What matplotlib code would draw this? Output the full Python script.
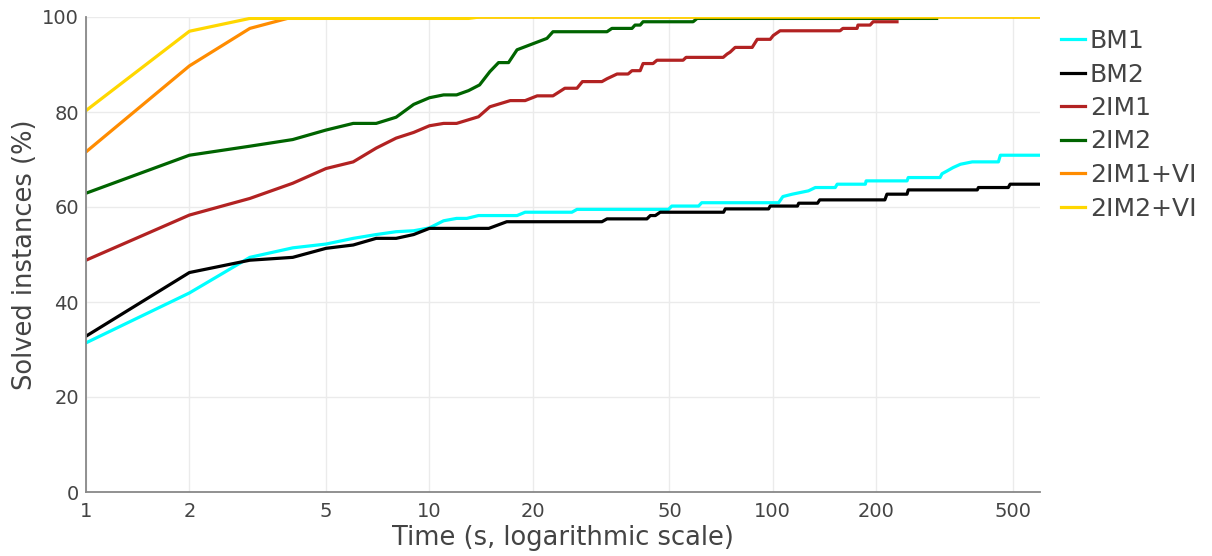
import matplotlib
matplotlib.use("Agg")
import matplotlib.pyplot as plt
from matplotlib.ticker import FixedLocator, FixedFormatter, NullLocator

# ---- data ----
bm1_t = [1, 2, 3, 4, 5, 6, 7, 8, 9, 10, 11, 12, 12.85, 13.9, 18, 19, 26, 26.9, 49.7, 50.8,
         60.8, 62.1, 104, 107, 114, 127, 133, 152, 154, 186, 187, 246, 248, 307, 311, 322,
         335, 352, 381, 454, 460, 600]
bm1_v = [31.4, 41.9, 49.4, 51.4, 52.2, 53.4, 54.2, 54.8, 55.0, 55.6, 57.1, 57.6, 57.6, 58.2,
         58.2, 58.9, 58.9, 59.5, 59.5, 60.2, 60.2, 60.9, 60.9, 62.2, 62.7, 63.4, 64.1, 64.1,
         64.8, 64.8, 65.5, 65.5, 66.2, 66.2, 67.0, 67.6, 68.3, 69.0, 69.5, 69.5, 70.9, 70.9]

bm2_t = [1, 2, 3, 4, 5, 6, 7, 8, 9, 10, 14.9, 16.8, 31.8, 32.9, 43.0, 44.0, 45.5, 47.0, 71.9,
         72.7, 97.2, 98.3, 118, 119, 135, 137, 212, 215, 246, 248, 394, 397, 485, 491, 600]
bm2_v = [32.8, 46.2, 48.8, 49.4, 51.3, 52.0, 53.4, 53.4, 54.2, 55.5, 55.5, 56.9, 56.9, 57.5,
         57.5, 58.2, 58.2, 58.9, 58.9, 59.6, 59.6, 60.2, 60.2, 60.8, 60.8, 61.5, 61.5, 62.7,
         62.7, 63.6, 63.6, 64.1, 64.1, 64.8, 64.8]

im1_t = [1, 2, 3, 4, 5, 6, 7, 8, 9, 10, 11, 12, 13.9, 15, 17.2, 19, 20.6, 22.9, 24.8, 26.9,
         27.9, 31.8, 32.9, 35.2, 37.9, 38.9, 41.1, 41.9, 44.8, 46.0, 54.8, 55.9, 71.7, 73.6,
         75.1, 77.7, 87.1, 90.1, 98.3, 100.3, 105, 157, 160, 176, 177, 192, 196, 230]
im1_v = [48.8, 58.3, 61.8, 65.0, 68.1, 69.5, 72.4, 74.5, 75.7, 77.1, 77.6, 77.6, 79.0, 81.1,
         82.4, 82.4, 83.4, 83.4, 85.0, 85.0, 86.4, 86.4, 87.0, 88.0, 88.0, 88.7, 88.7, 90.2,
         90.2, 90.9, 90.9, 91.5, 91.5, 92.2, 92.6, 93.6, 93.6, 95.3, 95.3, 96.1, 97.1, 97.1,
         97.6, 97.6, 98.3, 98.3, 99.0, 99.0]

im2_t = [1, 2, 3, 4, 5, 6, 7, 8, 9, 10, 11, 12, 13, 14, 15, 15.9, 17, 18, 22, 22.9, 32.9, 34,
         38.9, 39.7, 41.1, 41.9, 58.6, 60.2, 300]
im2_v = [62.9, 70.9, 72.8, 74.2, 76.2, 77.6, 77.6, 78.9, 81.6, 83.0, 83.6, 83.6, 84.5, 85.7,
         88.5, 90.4, 90.4, 93.1, 95.5, 96.9, 96.9, 97.6, 97.6, 98.3, 98.3, 99.0, 99.0, 99.7, 99.7]

im1vi_t = [1, 2, 3, 4, 600]
im1vi_v = [71.6, 89.7, 97.6, 100.0, 100.0]

im2vi_t = [1, 2, 3, 13, 14, 600]
im2vi_v = [80.3, 97.0, 99.7, 99.7, 100.0, 100.0]

series = [
    ("BM1", bm1_t, bm1_v, "#00FFFF"),
    ("BM2", bm2_t, bm2_v, "#000000"),
    ("2IM1", im1_t, im1_v, "#B22222"),
    ("2IM2", im2_t, im2_v, "#006400"),
    ("2IM1+VI", im1vi_t, im1vi_v, "#FF8C00"),
    ("2IM2+VI", im2vi_t, im2vi_v, "#FFD700"),
]

x_ticks = [1, 2, 5, 10, 20, 50, 100, 200, 500]
x_tick_labels = ["1", "2", "5", "10", "20", "50", "100", "200", "500"]
y_ticks = [0, 20, 40, 60, 80, 100]

# ---- figure ----
plt.rcParams['font.family'] = ['DejaVu Sans']
W, H = 1212, 556
fig = plt.figure(figsize=(W / 100, H / 100), dpi=100)
ax = fig.add_axes([86 / W, 1 - 492 / H, (1040 - 86) / W, (492 - 17) / H])

for name, t, v, c in series:
    ax.plot(t, v, color=c, lw=2.3, label=name, solid_joinstyle="round")

ax.set_xscale("log")
ax.set_xlim(1, 600)
ax.set_ylim(0, 100)
ax.xaxis.set_major_locator(FixedLocator(x_ticks))
ax.xaxis.set_major_formatter(FixedFormatter(x_tick_labels))
ax.xaxis.set_minor_locator(NullLocator())
ax.set_yticks(y_ticks)

txt = "#444444"
ax.tick_params(axis="both", length=0, labelsize=14, colors=txt)
ax.tick_params(axis="x", pad=7)
ax.tick_params(axis="y", pad=5)
ax.grid(True, color="#ebebeb", lw=1)
ax.set_axisbelow(True)
for s in ["top", "right"]:
    ax.spines[s].set_visible(False)
for s in ["left", "bottom"]:
    ax.spines[s].set_color("#888888")
    ax.spines[s].set_linewidth(1.3)

ax.set_xlabel("Time (s, logarithmic scale)", fontsize=18.5, color=txt, labelpad=3)
ax.set_ylabel("Solved instances (%)", fontsize=18.5, color=txt, labelpad=3)

leg = ax.legend(loc="upper left", bbox_to_anchor=(1051 / W, 1 - 19 / H),
                bbox_transform=fig.transFigure, frameon=False, fontsize=18,
                handlelength=0.95, handletextpad=0.2, labelspacing=0.38,
                borderaxespad=0)
for tx in leg.get_texts():
    tx.set_color(txt)

fig.savefig("out.png", dpi=100)
